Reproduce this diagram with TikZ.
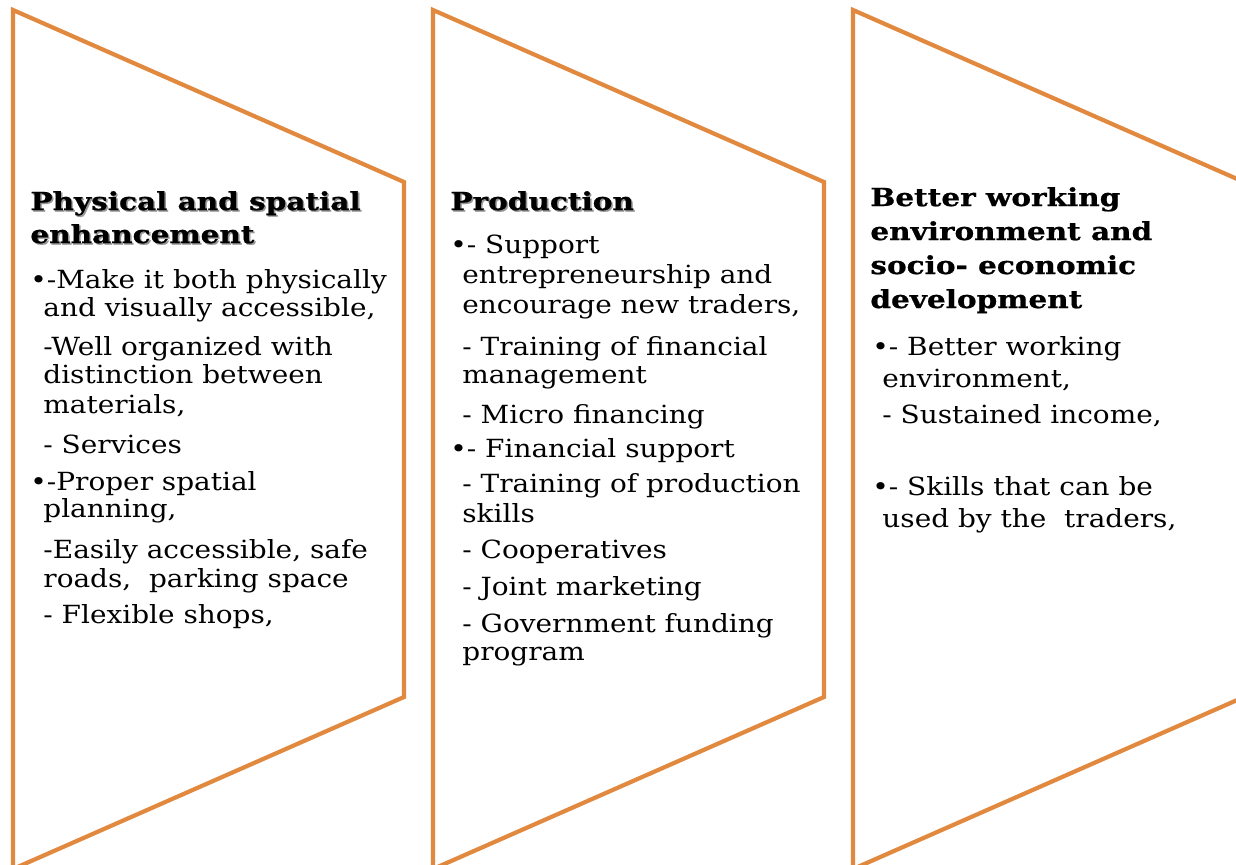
\documentclass[tikz,border=0pt]{standalone}
\usepackage{fontspec}
\setmainfont[FakeStretch=1.118]{DejaVu Serif}
\newfontfamily\headfont[FakeStretch=1.19, BoldFeatures={FakeBold=0.8}]{DejaVu Serif}
\definecolor{chevron}{RGB}{226,137,64}
\definecolor{shade}{RGB}{150,150,150}
\tikzset{
  panel/.style={draw=chevron, line width=2.1pt, line join=miter},
  body/.style={anchor=base west, inner sep=0pt, font=\fontsize{12.5}{14}\selectfont},
  head/.style={anchor=base west, inner sep=0pt, font=\headfont\fontsize{12.4}{14}\selectfont\bfseries},
  headshade/.style={head, text=shade},
}
\begin{document}
\begin{tikzpicture}[x=0.5pt,y=-0.5pt]
\useasboundingbox (0,0) rectangle (1236,864);
\clip (0,0) rectangle (1236,864);

% three right-pointing chevron panels
\foreach \dx in {0,420,840}{
  \draw[panel] (13+\dx,10) -- (404+\dx,182) -- (404+\dx,697) -- (13+\dx,869) -- cycle;
}

% panel headings (the first two carry a soft drop shadow)
\foreach \x/\y/\t [count=\n] in {30/210/{Physical and spatial}, 30/243/{enhancement}, 450/210/{Production}}{
  \node[headshade] (hs\n) at (\x+1.5,\y+1.5) {\t};
  \node[head] (h\n) at (\x,\y) {\t};
}
\foreach \x/\y/\t [count=\n] in {870/206/{Better working}, 870/240/{environment and}, 870/274/{socio- economic}, 870/308/{development}}{
  \node[head] (k\n) at (\x,\y) {\t};
}

% panel 1 body
\foreach \x/\y/\t [count=\n] in {
  30/288/{•-Make it both physically},
  43/316/{and visually accessible,},
  43/355/{-Well organized with},
  43/383/{distinction between},
  43/413/{materials,},
  43/453/{- Services},
  30/490/{•-Proper spatial},
  43/517/{planning,},
  43/558/{-Easily accessible, safe},
  43/587/{roads,\ \ parking space},
  43/623/{- Flexible shops,}}{
  \node[body] (a\n) at (\x,\y) {\t};
}

% panel 2 body
\foreach \x/\y/\t [count=\n] in {
  450/253/{•- Support},
  462/283/{entrepreneurship and},
  462/313/{encourage new traders,},
  462/355/{- Training of financial},
  462/383/{management},
  462/423/{- Micro financing},
  450/457/{•- Financial support},
  462/492/{- Training of production},
  462/522/{skills},
  462/558/{- Cooperatives},
  462/595/{- Joint marketing},
  462/632/{- Government funding},
  462/660/{program}}{
  \node[body] (b\n) at (\x,\y) {\t};
}

% panel 3 body
\foreach \x/\y/\t [count=\n] in {
  872/355/{•- Better working},
  882/387/{environment,},
  882/423/{- Sustained income,},
  872/495/{•- Skills that can be},
  882/527/{used by the\ \ traders,}}{
  \node[body] (c\n) at (\x,\y) {\t};
}
\end{tikzpicture}
\end{document}
